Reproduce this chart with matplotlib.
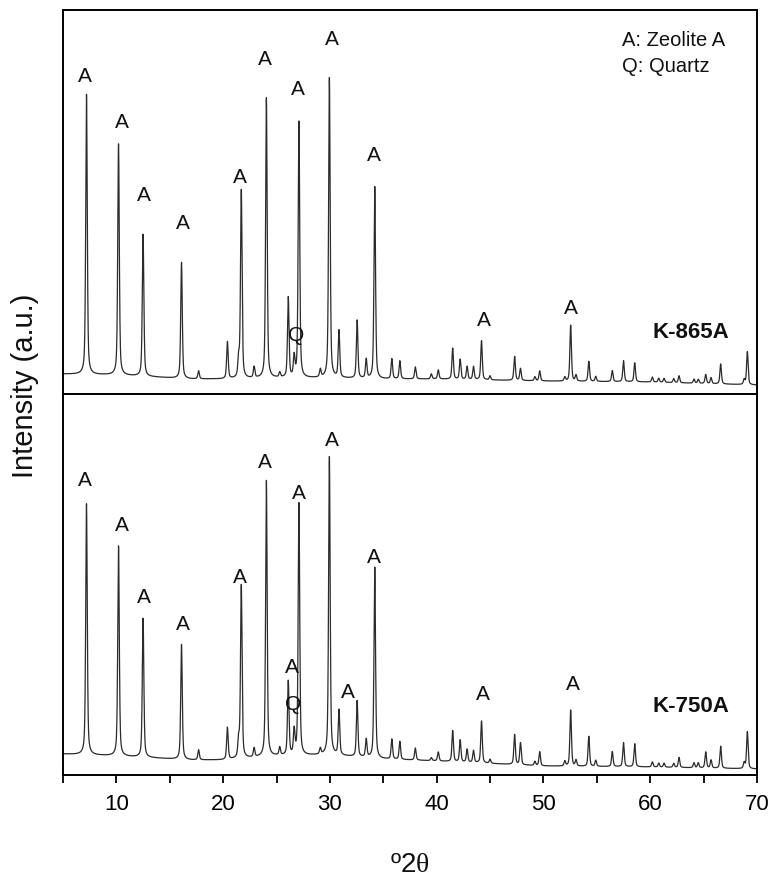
import numpy as np
import matplotlib
matplotlib.use('Agg')
import matplotlib.pyplot as plt
from matplotlib.ticker import MultipleLocator

plt.rcParams['font.family'] = ['Liberation Sans', 'DejaVu Sans']
plt.rcParams['mathtext.fontset'] = 'custom'
plt.rcParams['mathtext.rm'] = 'Liberation Serif'

# ============================================
# Data
# ============================================
# peak positions (deg 2theta)
peak_pos = [7.2, 10.2, 12.5, 16.1, 17.7, 20.4, 21.45, 21.7, 22.9, 24.05,
            25.3, 26.1, 26.65, 27.1, 29.1, 29.95, 30.85, 32.55, 33.4, 34.2,
            35.8, 36.55, 38.0, 39.5, 40.15, 41.5, 42.2, 42.85, 43.45, 44.2,
            45.0, 47.3, 47.85, 49.2, 49.65, 52.0, 52.55, 53.05, 54.25, 54.9,
            56.45, 57.5, 58.55, 60.2, 60.8, 61.3, 62.2, 62.7, 64.1, 64.5,
            65.2, 65.7, 66.6, 68.8, 69.1]

# peak heights above background, K-865A
h_865 = [280, 231, 142, 116, 8, 37, 18, 188, 11, 280,
         5, 80, 20, 256, 8, 300, 47, 58, 19, 192,
         20, 18, 12, 5, 9, 31, 20, 13, 13, 39,
         4, 24, 12, 4, 10, 4, 56, 6, 20, 5,
         11, 21, 19, 5, 4, 4, 4, 7, 4, 4,
         9, 6, 20, 5, 33]

# peak heights above background, K-750A
h_750 = [251, 210, 139, 115, 10, 32, 17, 173, 9, 276,
         8, 74, 24, 252, 6, 298, 45, 56, 18, 191,
         20, 18, 12, 3, 9, 31, 22, 13, 12, 42,
         4, 30, 22, 4, 14, 5, 56, 6, 30, 6,
         15, 24, 23, 5, 4, 4, 4, 10, 5, 5,
         16, 8, 22, 6, 37]

# background levels
bg_x = [5, 10, 17, 20, 25, 30, 35, 40, 50, 60, 70]
bg_865 = [20, 19, 15, 15, 16, 16, 15, 15, 13, 12, 9]
bg_750 = [21, 19, 15, 15, 19, 20, 16, 14, 9, 8, 6]

# peak labels: (text, x, y)
labels_865 = [('A', 7.06, 318), ('A', 10.5, 272), ('A', 12.58, 200),
              ('A', 16.2, 172), ('A', 21.57, 218), ('A', 23.94, 335),
              ('A', 27.03, 305), ('A', 30.16, 355), ('A', 34.12, 240),
              ('A', 44.42, 75), ('A', 52.57, 87), ('Q', 26.8, 60)]
labels_750 = [('A', 7.06, 296), ('A', 10.5, 251), ('A', 12.58, 179),
              ('A', 16.2, 151), ('A', 21.57, 199), ('A', 23.94, 314),
              ('A', 26.4, 108), ('Q', 26.56, 71), ('A', 27.1, 283),
              ('A', 30.2, 336), ('A', 31.7, 83), ('A', 34.12, 219),
              ('A', 44.35, 81), ('A', 52.78, 91)]


def pattern(x, heights, bg):
    y = np.interp(x, bg_x, bg)
    fwhm = 0.17
    for p, h in zip(peak_pos, heights):
        d = (x - p) / (fwhm / 2)
        lor = 1.0 / (1.0 + d ** 2)
        gau = np.exp(-np.log(2) * d ** 2)
        y = y + h * (0.5 * lor + 0.5 * gau)
    return y


tt = np.arange(5.0, 70.0, 0.005)
y_865 = pattern(tt, h_865, bg_865)
y_750 = pattern(tt, h_750, bg_750)

# ============================================
# Figure
# ============================================
fig = plt.figure(figsize=(7.74, 8.79), dpi=100)
ax1 = fig.add_axes([0.0814, 0.5506, 0.8966, 0.4369])
ax2 = fig.add_axes([0.0814, 0.1172, 0.8966, 0.4334])

for ax, y, lab, name, ytop, name_y in [(ax1, y_865, labels_865, 'K-865A', 384, 57),
                                        (ax2, y_750, labels_750, 'K-750A', 381, 64)]:
    ax.plot(tt, y, color='#2b2b2b', lw=0.9)
    ax.set_xlim(5, 70)
    ax.set_ylim(0, ytop)
    ax.set_yticks([])
    for s in ax.spines.values():
        s.set_linewidth(1.4)
    for t, lx, ly in lab:
        ax.text(lx, ly, t, ha='center', va='center', fontsize=15, color='#111111')
    ax.text(60.25, name_y, name, fontsize=16, fontweight='bold', va='baseline',
            color='#111111')

ax1.set_xticks([])
ax1.text(57.4, 349, 'A: Zeolite A', fontsize=14.5, va='baseline', color='#111111')
ax1.text(57.4, 323, 'Q: Quartz', fontsize=14.5, va='baseline', color='#111111')

ax2.xaxis.set_major_locator(MultipleLocator(10))
ax2.xaxis.set_minor_locator(MultipleLocator(5))
ax2.tick_params(axis='x', which='both', direction='out', length=6, width=1.3,
                labelsize=16, pad=7)

fig.text(0.0323, 1 - 386 / 879, 'Intensity (a.u.)', rotation=90, fontsize=21,
         ha='center', va='center', color='#111111')
fig.text(410 / 774, 1 - 865 / 879, 'º2$\\mathrm{\\theta}$', fontsize=20,
         ha='center', va='center', color='#111111')

fig.savefig('out.png', dpi=100)
